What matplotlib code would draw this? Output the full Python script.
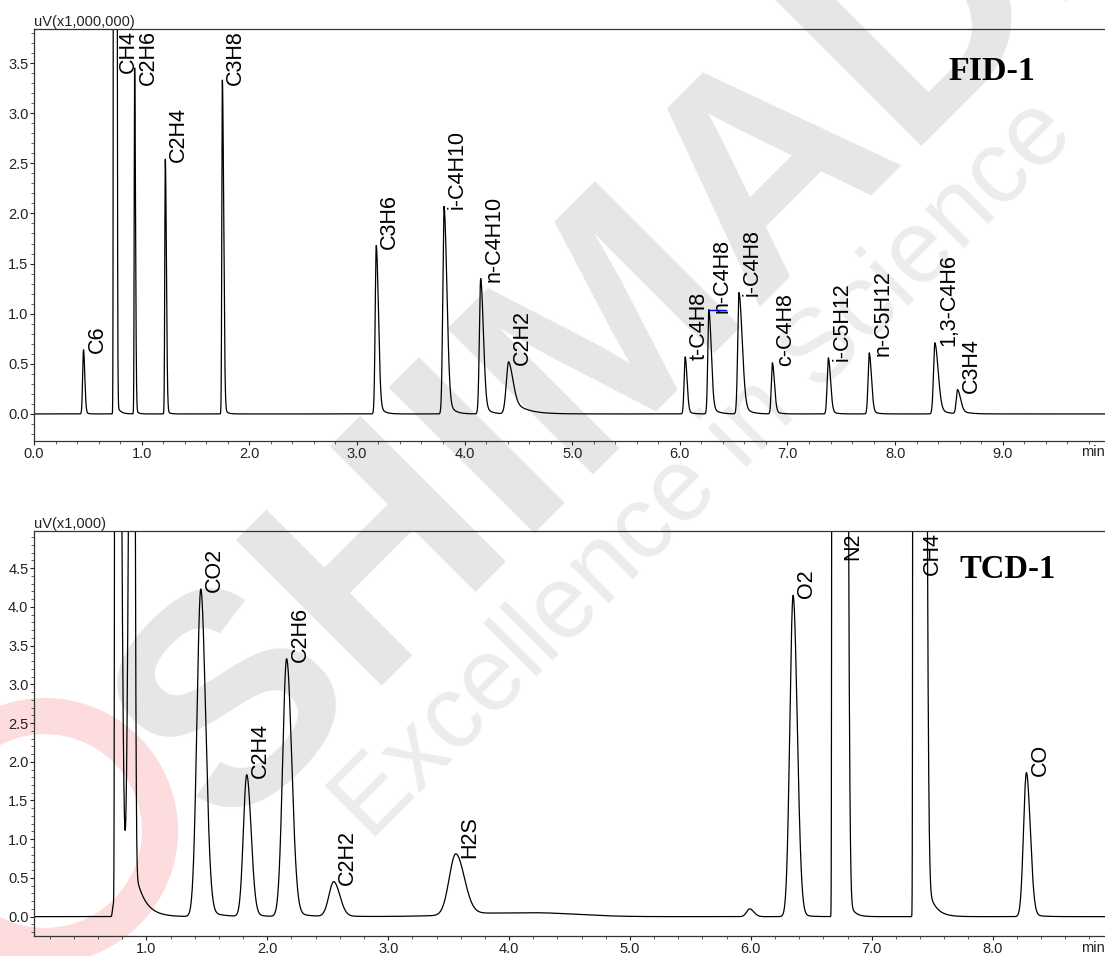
import numpy as np
import matplotlib
matplotlib.use("Agg")
import matplotlib.pyplot as plt
from matplotlib.ticker import MultipleLocator, FormatStrFormatter
from matplotlib.patches import Circle

plt.rcParams['font.family'] = ['Liberation Sans', 'DejaVu Sans']

# ---------------- FID-1 (uV x1,000,000) ----------------
fid_names = ["C6", "CH4", "C2H6", "C2H4", "C3H8", "C3H6", "i-C4H10", "n-C4H10", "C2H2",
             "t-C4H8", "n-C4H8", "i-C4H8", "c-C4H8", "i-C5H12", "n-C5H12", "1,3-C4H6", "C3H4"]
fid_rt = [0.46, 0.752, 0.935, 1.22, 1.75, 3.18, 3.81, 4.15, 4.41,
          6.05, 6.27, 6.55, 6.86, 7.38, 7.76, 8.37, 8.58]
fid_height = [0.64, 30.0, 3.45, 2.54, 3.33, 1.68, 2.07, 1.35, 0.52,
              0.57, 1.04, 1.21, 0.51, 0.56, 0.61, 0.71, 0.24]
fid_plateau = [0, 0.016, 0, 0, 0, 0, 0, 0, 0, 0, 0, 0, 0, 0, 0, 0, 0]
fid_sig_l = [0.008, 0.004, 0.004, 0.005, 0.005, 0.010, 0.012, 0.012, 0.022,
             0.010, 0.010, 0.012, 0.010, 0.011, 0.011, 0.013, 0.012]
fid_sig_r = [0.012, 0.007, 0.008, 0.010, 0.012, 0.020, 0.026, 0.025, 0.040,
             0.017, 0.022, 0.030, 0.019, 0.020, 0.020, 0.030, 0.028]
fid_tail_f = [0.06, 0.004, 0.02, 0.03, 0.03, 0.10, 0.12, 0.12, 0.35,
              0.10, 0.12, 0.14, 0.10, 0.10, 0.10, 0.15, 0.20]
fid_tail_tau = [0.02, 0.03, 0.02, 0.02, 0.025, 0.04, 0.05, 0.05, 0.12,
                0.035, 0.05, 0.055, 0.04, 0.04, 0.04, 0.06, 0.07]
fid_mark_t = [6.27, 6.43]     # blue baseline marker at n-C4H8
fid_mark_y = 1.04

# ---------------- TCD-1 (uV x1,000) ----------------
tcd_names = ["", "", "", "CO2", "C2H4", "C2H6", "C2H2", "H2S", "", "", "O2", "N2", "CH4", "CO"]
tcd_rt = [0.725, 0.754, 0.888, 1.45, 1.83, 2.16, 2.55, 3.56, 4.20, 5.99, 6.35, 6.73, 7.39, 8.28]
tcd_height = [0.15, 12.0, 12.0, 4.23, 1.83, 3.33, 0.45, 0.79, 0.05, 0.10, 4.15, 12.0, 12.0, 1.86]
tcd_plateau = [0, 0.026, 0.014, 0, 0, 0, 0, 0, 0, 0, 0, 0.115, 0.095, 0]
tcd_sig_l = [0.006, 0.004, 0.023, 0.032, 0.028, 0.033, 0.040, 0.055, 0.50, 0.025, 0.027, 0.003, 0.003, 0.024]
tcd_sig_r = [0.006, 0.023, 0.010, 0.040, 0.036, 0.042, 0.050, 0.070, 0.35, 0.035, 0.034, 0.016, 0.017, 0.032]
tcd_tail_f = [0.0, 0.0, 0.057, 0.03, 0.03, 0.03, 0.05, 0.06, 0.0, 0.0, 0.02, 0.03, 0.05, 0.03]
tcd_tail_tau = [0.05, 0.05, 0.079, 0.10, 0.08, 0.10, 0.10, 0.15, 0.1, 0.05, 0.06, 0.04, 0.06, 0.07]


def trace(t, rt, h, plat, sl, sr, tf, tt):
    y = np.zeros_like(t)
    for c, H, p, a, b, f, tau in zip(rt, h, plat, sl, sr, tf, tt):
        cl = c - p / 2.0
        cr = c + p / 2.0
        yl = H * np.exp(-0.5 * ((t - cl) / a) ** 2)
        dt = np.clip(t - cr, 0, None)
        yr = H * ((1 - f) * np.exp(-0.5 * (dt / b) ** 2) + f * np.exp(-dt / tau))
        y += np.where(t < cl, yl, np.where(t > cr, yr, H))
    return y


t = np.linspace(0.0, 10.0, 40001)
fid_y = trace(t, fid_rt, fid_height, fid_plateau, fid_sig_l, fid_sig_r, fid_tail_f, fid_tail_tau)
tcd_y = trace(t, tcd_rt, tcd_height, tcd_plateau, tcd_sig_l, tcd_sig_r, tcd_tail_f, tcd_tail_tau)

W, H = 1105, 956
fig = plt.figure(figsize=(W / 100, H / 100), dpi=100)

# ---- faint watermark ----
fig.text(728 / W, 1 - 222 / H, "SHIMADZU", rotation=45, rotation_mode='anchor',
         ha='center', va='center', fontsize=215, fontweight='bold',
         color='#e6e6e6', zorder=-5)
fig.text(705 / W, 1 - 470 / H, "Excellence in Science", rotation=45, rotation_mode='anchor',
         ha='center', va='center', fontsize=74, color='#ececec', zorder=-5)
ring = Circle((0.45, 1.25), 1.15, transform=fig.dpi_scale_trans, fill=False,
              lw=26, edgecolor='#fcdcdc', zorder=-6)
fig.patches.append(ring)

ax1 = fig.add_axes([34 / W, 1 - 441 / H, (W - 34) / W, (441 - 29) / H])
ax2 = fig.add_axes([34 / W, 1 - 936 / H, (W - 34) / W, (936 - 531) / H])

lab_font = dict(fontsize=15.5, family=['Liberation Sans', 'DejaVu Sans'])


def style(ax, xlim, ylim, unit):
    ax.set_facecolor('none')
    ax.set_xlim(*xlim)
    ax.set_ylim(*ylim)
    ax.xaxis.set_major_locator(MultipleLocator(1.0))
    ax.xaxis.set_minor_locator(MultipleLocator(0.2))
    ax.yaxis.set_major_locator(MultipleLocator(0.5))
    ax.yaxis.set_minor_locator(MultipleLocator(0.1))
    ax.xaxis.set_major_formatter(FormatStrFormatter('%.1f'))
    ax.yaxis.set_major_formatter(FormatStrFormatter('%.1f'))
    ax.tick_params(which='major', direction='out', length=3, width=0.8,
                   labelsize=10.5, pad=1.0, colors='#222222')
    ax.tick_params(which='minor', direction='out', length=2, width=0.6, colors='#444444')
    ax.spines['right'].set_visible(False)
    for s in ('left', 'bottom', 'top'):
        ax.spines[s].set_color('#333333')
        ax.spines[s].set_linewidth(0.9)
    ax.text(0.0, 1.0, unit, transform=ax.transAxes, ha='left', va='bottom',
            fontsize=10.5, color='#222222')
    ax.annotate("min", xy=(1.0, 0.0), xycoords='axes fraction', xytext=(0, -4.5),
                textcoords='offset pixels', ha='right', va='top', fontsize=10.5,
                color='#222222')


style(ax1, (0.0, 9.95), (-0.27, 3.84), "uV(x1,000,000)")
style(ax2, (0.07, 8.93), (-0.25, 4.98), "uV(x1,000)")

# leave room for the "min" unit at the right end
for ax in (ax1, ax2):
    lo, hi = ax.get_xlim()
    ax.set_xticks([v for v in np.arange(0, 10.01, 1.0) if lo - 1e-9 <= v <= hi - 0.5])

ax1.plot(t, fid_y, color='black', lw=0.9)
ax2.plot(t, tcd_y, color='black', lw=0.9)
ax1.plot(fid_mark_t, [fid_mark_y, fid_mark_y], color='blue', lw=1.0)

fig.text(992 / W, 1 - 71 / H, "FID-1", ha='center', va='center', fontsize=24.5,
         fontweight='bold', family=['Liberation Serif', 'DejaVu Serif'])
fig.text(1008 / W, 1 - 570 / H, "TCD-1", ha='center', va='center', fontsize=23.5,
         fontweight='bold', family=['Liberation Serif', 'DejaVu Serif'])

anns = []
for ax, names, rts, hs in ((ax1, fid_names, fid_rt, fid_height),
                           (ax2, tcd_names, tcd_rt, tcd_height)):
    top = ax.get_ylim()[1]
    for n, r, h in zip(names, rts, hs):
        if not n:
            continue
        a = ax.annotate(n, xy=(r, min(h, top)), xytext=(3, -3), textcoords='offset pixels',
                        rotation=90, ha='left', va='bottom', color='black', **lab_font)
        anns.append((ax, a))

fig.canvas.draw()
renderer = fig.canvas.get_renderer()
for ax, a in anns:
    bb = a.get_window_extent(renderer)
    ax_top = ax.get_window_extent(renderer).y1
    over = bb.y1 - (ax_top - 1)
    if over > 0:
        a.xyann = (3, -3 - over)

fig.savefig("out.png", dpi=100)
